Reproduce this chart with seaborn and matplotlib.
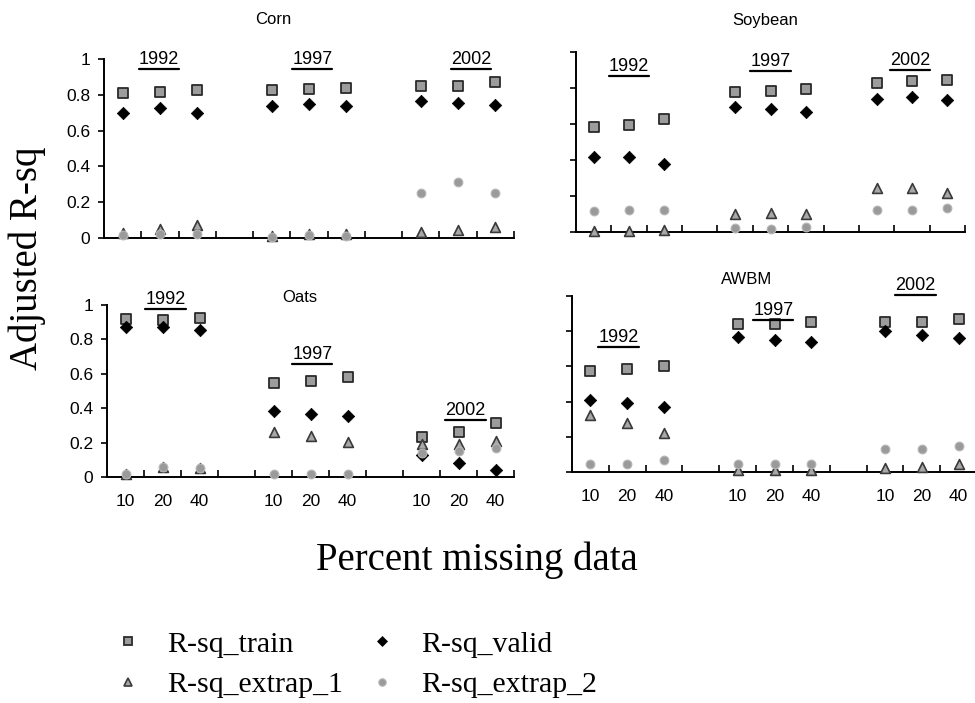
import numpy as np
import pandas as pd
import matplotlib
matplotlib.use("Agg")
import matplotlib.pyplot as plt
from matplotlib.lines import Line2D
import seaborn as sns

# ---- data -------------------------------------------------------------
years = ["1992", "1997", "2002"]
pct_missing = ["10", "20", "40"]
series_names = ["R-sq_train", "R-sq_valid", "R-sq_extrap_1", "R-sq_extrap_2"]

corn_train = [0.808, 0.814, 0.827, 0.827, 0.831, 0.836, 0.849, 0.849, 0.870]
corn_valid = [0.700, 0.725, 0.697, 0.737, 0.749, 0.737, 0.766, 0.756, 0.743]
corn_extrap_1 = [0.028, 0.049, 0.073, 0.010, 0.025, 0.020, 0.035, 0.045, 0.063]
corn_extrap_2 = [0.018, 0.025, 0.022, 0.005, 0.018, 0.013, 0.250, 0.315, 0.253]

soy_train = [0.585, 0.594, 0.628, 0.776, 0.783, 0.793, 0.826, 0.839, 0.844]
soy_valid = [0.415, 0.415, 0.378, 0.693, 0.682, 0.668, 0.739, 0.752, 0.733]
soy_extrap_1 = [0.008, 0.005, 0.012, 0.098, 0.104, 0.098, 0.243, 0.246, 0.218]
soy_extrap_2 = [0.117, 0.122, 0.122, 0.020, 0.017, 0.030, 0.122, 0.122, 0.132]

oats_train = [0.917, 0.913, 0.923, 0.548, 0.560, 0.583, 0.234, 0.263, 0.312]
oats_valid = [0.874, 0.874, 0.855, 0.386, 0.366, 0.355, 0.130, 0.083, 0.040]
oats_extrap_1 = [0.020, 0.060, 0.055, 0.263, 0.238, 0.205, 0.190, 0.190, 0.210]
oats_extrap_2 = [0.020, 0.060, 0.050, 0.020, 0.020, 0.020, 0.140, 0.150, 0.170]

awbm_train = [0.574, 0.585, 0.602, 0.841, 0.841, 0.854, 0.854, 0.854, 0.868]
awbm_valid = [0.409, 0.394, 0.371, 0.765, 0.750, 0.740, 0.803, 0.778, 0.760]
awbm_extrap_1 = [0.324, 0.277, 0.220, 0.010, 0.010, 0.010, 0.021, 0.030, 0.045]
awbm_extrap_2 = [0.045, 0.045, 0.068, 0.045, 0.045, 0.045, 0.129, 0.129, 0.148]

panels = {
    "Corn": [corn_train, corn_valid, corn_extrap_1, corn_extrap_2],
    "Soybean": [soy_train, soy_valid, soy_extrap_1, soy_extrap_2],
    "Oats": [oats_train, oats_valid, oats_extrap_1, oats_extrap_2],
    "AWBM": [awbm_train, awbm_valid, awbm_extrap_1, awbm_extrap_2],
}

# category slots: three groups of three, one empty slot between groups
slot = [1, 2, 3, 5, 6, 7, 9, 10, 11]

# ---- styling ----------------------------------------------------------
sns.set_style("ticks")
plt.rcParams["font.family"] = ["Liberation Sans", "DejaVu Sans"]
for key in ("text.color", "axes.labelcolor", "xtick.color", "ytick.color",
            "axes.edgecolor"):
    plt.rcParams[key] = "black"
SERIF = ["Liberation Serif", "DejaVu Serif"]

marker_styles = {
    "R-sq_train": dict(marker="s", s=48, color="#9c9c9c", edgecolor="#2a2a2a", linewidth=1.3),
    "R-sq_valid": dict(marker="D", s=40, color="#000000", edgecolor="#000000", linewidth=0.5),
    "R-sq_extrap_1": dict(marker="^", s=50, color="#a8a8a8", edgecolor="#3a3a3a", linewidth=1.2),
    "R-sq_extrap_2": dict(marker="o", s=40, color="#9a9a9a", edgecolor="#b8b8b8", linewidth=0.8),
}

W, H = 975, 703
fig = plt.figure(figsize=(W / 100, H / 100), dpi=100)


def px_rect(x0, x1, ytop, ybot):
    return [x0 / W, 1 - ybot / H, (x1 - x0) / W, (ybot - ytop) / H]


layout = {
    "Corn": dict(rect=px_rect(104, 514, 59, 238), left=True, bottom=False,
                 title_xy=(273, 20),
                 year_xy=[(1.98, 1.0), (6.09, 1.0), (10.34, 1.0)]),
    "Soybean": dict(rect=px_rect(576, 965, 52, 232), left=False, bottom=False,
                    title_xy=(765, 20),
                    year_xy=[(1.99, 0.918), (6.0, 0.946), (9.95, 0.955)]),
    "Oats": dict(rect=px_rect(107, 514, 305, 477), left=True, bottom=True,
                 title_xy=(300, 298),
                 year_xy=[(2.08, 1.03), (6.05, 0.71), (10.19, 0.384)]),
    "AWBM": dict(rect=px_rect(572, 977, 296, 472), left=False, bottom=True,
                 title_xy=(747, 280),
                 year_xy=[(1.76, 0.765), (5.97, 0.915), (9.83, 1.06)]),
}

year_texts = []
for name, values in panels.items():
    cfg = layout[name]
    ax = fig.add_axes(cfg["rect"])
    ax.set_facecolor("none")
    df = pd.DataFrame({"slot": slot})
    for sname, vals in zip(series_names, values):
        df[sname] = vals
        sns.scatterplot(data=df, x="slot", y=sname, ax=ax, clip_on=False,
                        zorder=3, **marker_styles[sname])

    ax.set_xlim(0.5, 11.5)
    ax.set_ylim(0, 1)
    ax.set_xlabel("")
    ax.set_ylabel("")
    for side in ("top", "right"):
        ax.spines[side].set_visible(False)
    for side in ("left", "bottom"):
        ax.spines[side].set_linewidth(1.4)
        ax.spines[side].set_color("black")

    ax.set_xticks(slot)
    ax.set_xticklabels(pct_missing * 3 if cfg["bottom"] else [""] * 9)
    ax.set_xticks(np.arange(1.5, 11.6, 1.0), minor=True)
    ax.tick_params(axis="x", which="major", length=0, pad=12, labelsize=12.5)
    ax.tick_params(axis="x", which="minor", direction="in", length=5, width=1.2)

    ax.set_yticks([0, 0.2, 0.4, 0.6, 0.8, 1.0])
    if cfg["left"]:
        ax.set_yticklabels(["0", "0.2", "0.4", "0.6", "0.8", "1"])
    else:
        ax.set_yticklabels([""] * 6)
    ax.tick_params(axis="y", which="major", direction="out", length=4,
                   width=1.2, pad=6, labelsize=12.5)
    ax.yaxis.set_minor_locator(matplotlib.ticker.NullLocator())

    for yr, (xx, yy) in zip(years, cfg["year_xy"]):
        t = ax.text(xx, yy, yr, ha="center", va="center", fontsize=13,
                    clip_on=False, zorder=4)
        year_texts.append(t)

    tx, ty = cfg["title_xy"]
    fig.text(tx / W, 1 - ty / H, name, ha="center", va="center", fontsize=12)

fig.text(27 / W, 1 - 258 / H, "Adjusted R-sq", rotation=90, ha="center",
         va="center", fontsize=28, family=SERIF)
fig.text(477 / W, 1 - 570 / H, "Percent missing data", ha="center",
         va="baseline", fontsize=28, family=SERIF)

# legend: two columns, row-wise train/valid then extrap_1/extrap_2
handles = {}
for sname in series_names:
    st = marker_styles[sname]
    handles[sname] = Line2D([], [], linestyle="none", marker=st["marker"],
                            markersize=np.sqrt(st["s"]) * 0.85,
                            markerfacecolor=st["color"],
                            markeredgecolor=st["edgecolor"],
                            markeredgewidth=st["linewidth"])
order = ["R-sq_train", "R-sq_extrap_1", "R-sq_valid", "R-sq_extrap_2"]
fig.legend([handles[k] for k in order], order, ncol=2, frameon=False,
           loc="upper left", bbox_to_anchor=(113 / W, 1 - 631 / H),
           borderpad=0, borderaxespad=0, handlelength=1.0,
           handletextpad=0.82, columnspacing=0.8, labelspacing=0.45,
           prop=dict(family=SERIF, size=21.5))

# underline the year labels
fig.canvas.draw()
renderer = fig.canvas.get_renderer()
for t in year_texts:
    bb = t.get_window_extent(renderer)
    y = bb.y0 - 1
    fig.add_artist(Line2D([bb.x0 / W, bb.x1 / W], [y / H, y / H],
                          transform=fig.transFigure, color="black", lw=1.6))

fig.savefig("out.png", dpi=100)
